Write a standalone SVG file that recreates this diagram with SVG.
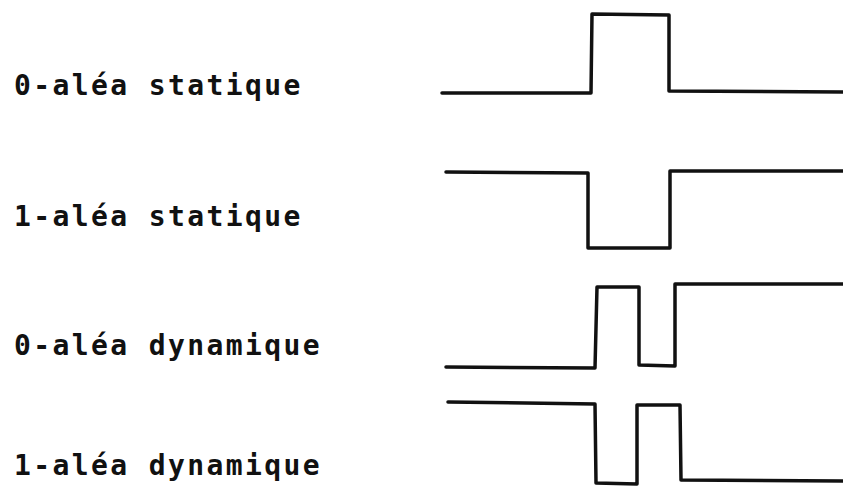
<svg xmlns="http://www.w3.org/2000/svg" width="843" height="494" viewBox="0 0 843 494">
<style>
.lbl{font-family:"DejaVu Sans Mono","Liberation Mono",monospace;font-size:28px;font-weight:bold;letter-spacing:2.4px;fill:#111}
.w{fill:none;stroke:#111;stroke-width:3.5;stroke-linejoin:round;stroke-linecap:round}
</style>
<rect width="843" height="494" fill="#fff"/>
<g id="label-0-statique"><text class="lbl" x="14" y="95">0-aléa statique</text></g>
<g id="label-1-statique"><text class="lbl" x="14" y="226">1-aléa statique</text></g>
<g id="label-0-dynamique"><text class="lbl" x="14" y="355">0-aléa dynamique</text></g>
<g id="label-1-dynamique"><text class="lbl" x="14" y="475">1-aléa dynamique</text></g>
<g id="waveforms">
<path class="w" d="M442 93 L591 93 L592 14 L669 15 L669 91 L843 92"/>
<path class="w" d="M446 172 L588 173 L588 248 L670 248 L670 171 L843 171"/>
<path class="w" d="M446 367 L595 368 L597 287 L639 287 L639 365 L675 366 L675 284 L843 284"/>
<path class="w" d="M448 402 L595 404 L596 483 L637 484 L637 405 L680 405 L681 480 L843 481"/>
</g>
</svg>
